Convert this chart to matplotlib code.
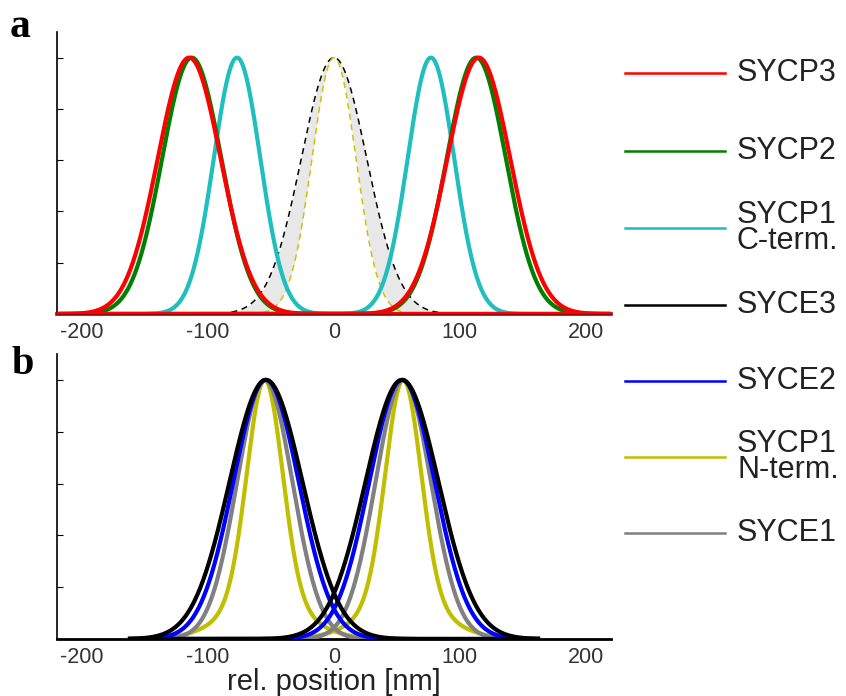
import numpy as np
import matplotlib
matplotlib.use("Agg")
import matplotlib.pyplot as plt

plt.rcParams['font.family'] = ['Liberation Sans', 'DejaVu Sans']

# ---------------- data ----------------
# Panel a: peak positions (nm) and widths (sigma, nm) of the fitted profiles
a_names   = ["SYCP3", "SYCP2", "SYCP1\nC-term.", "SYCE3"]
a_colors  = ["#ff0000", "#008000", "#1fbfbf", "#000000"]
sycp3_pos, sycp3_sig = [-115, 115], 25
sycp2_pos, sycp2_sig = [-113, 113], 23.5
sycp1c_pos, sycp1c_sig = [-77, 77], 18.5
syce3_a_pos, syce3_a_sig = [0], 26       # dashed black
sycp1n_a_pos, sycp1n_a_sig = [0], 17.5   # dashed yellow

# Panel b
b_names  = ["SYCE2", "SYCP1\nN-term.", "SYCE1"]
b_colors = ["#0000ff", "#bfbf00", "#808080"]
syce2_pos, syce2_sig = [-54, 54], 26
sycp1n_pos, sycp1n_sig, sycp1n_tail = [-55, 55], 14, 0.15
syce1_pos, syce1_sig = [-55, 55], 22
syce3_b_pos, syce3_b_sig = [-54, 54], 29

xticks = [-200, -100, 0, 100, 200]
yticks = [0, 0.2, 0.4, 0.6, 0.8, 1.0]


def profile(x, c, sigma, tail=0.0):
    """Peak-normalised profile centred at c (Gaussian plus optional broad shoulder)."""
    z = (x - c) / sigma
    g = np.exp(-0.5 * z ** 2)
    broad = np.exp(-0.5 * (z / 2.2) ** 2)
    return (1 - tail) * g + tail * broad


W, H = 846, 696
fig = plt.figure(figsize=(W / 100, H / 100), dpi=100)
ax1 = fig.add_axes([57 / W, (H - 314) / H, 554 / W, 282 / H])
ax2 = fig.add_axes([57 / W, (H - 639) / H, 554 / W, 285 / H])

tick_color = "#333333"
for ax in (ax1, ax2):
    ax.set_xlim(-220, 220)
    ax.set_ylim(0, 1.1)
    ax.spines['top'].set_visible(False)
    ax.spines['right'].set_visible(False)
    ax.spines['left'].set_linewidth(1.2)
    ax.spines['bottom'].set_linewidth(2.0)
    ax.set_xticks(xticks)
    ax.set_xticklabels([str(t) for t in xticks], fontsize=15.5, color=tick_color)
    ax.set_yticks(yticks)
    ax.set_yticklabels([])
    ax.tick_params(axis='y', direction='in', length=4, width=0.8)
    ax.tick_params(axis='x', direction='in', length=0, pad=6)

# ---------------- panel a ----------------
xa = np.linspace(-220, 220, 1761)
y_s3 = profile(xa, syce3_a_pos[0], syce3_a_sig)
y_n = profile(xa, sycp1n_a_pos[0], sycp1n_a_sig)
ax1.fill_between(xa, y_n, y_s3, color="#e8e8e8", lw=0, zorder=1)
xd = np.linspace(-90, 90, 721)
ax1.plot(xd, profile(xd, syce3_a_pos[0], syce3_a_sig), color="black", lw=1.1,
         dashes=(4, 3), zorder=2)
ax1.plot(xd, profile(xd, sycp1n_a_pos[0], sycp1n_a_sig), color="#c8c800", lw=1.1,
         dashes=(4, 3), zorder=2)
for pos, sig, col in ((sycp1c_pos, sycp1c_sig, a_colors[2]),
                      (sycp2_pos, sycp2_sig, a_colors[1]),
                      (sycp3_pos, sycp3_sig, a_colors[0])):
    for c in pos:
        ax1.plot(xa, profile(xa, c, sig), color=col, lw=3, zorder=3)
ax1.spines['bottom'].set_color("#8b0a0a")
ax1.spines['bottom'].set_linewidth(2.6)

# ---------------- panel b ----------------
xb = np.linspace(-162, 162, 1297)
for pos, sig, tail, col in ((sycp1n_pos, sycp1n_sig, sycp1n_tail, b_colors[1]),
                            (syce1_pos, syce1_sig, 0.0, b_colors[2]),
                            (syce2_pos, syce2_sig, 0.0, b_colors[0]),
                            (syce3_b_pos, syce3_b_sig, 0.0, "black")):
    for c in pos:
        ax2.plot(xb, profile(xb, c, sig, tail), color=col, lw=3, zorder=3)
ax2.set_xlabel("rel. position [nm]", fontsize=21, color="#222222", labelpad=0)

# ---------------- legends (separate panel to the right) ----------------
leg = fig.add_axes([0, 0, 1, 1], zorder=-1)
leg.set_xlim(0, W)
leg.set_ylim(H, 0)
leg.axis('off')
for names, colors, ys in ((a_names, a_colors, [73, 151, 228, 305]),
                          (b_names, b_colors, [381, 457, 533])):
    for name, col, yy in zip(names, colors, ys):
        leg.plot([625, 725], [yy, yy], color=col, lw=1.8)
        leg.text(737, yy, name, fontsize=22, color="#222222", va='center',
                 ha='left', linespacing=0.85)

# panel letters
fig.text(10 / W, 1 - 27 / H, "a", fontsize=30, fontweight='bold',
         family='Liberation Serif', va='center', ha='left')
fig.text(12 / W, 1 - 365 / H, "b", fontsize=29, fontweight='bold',
         family='Liberation Serif', va='center', ha='left')

fig.savefig("out.png", dpi=100)
